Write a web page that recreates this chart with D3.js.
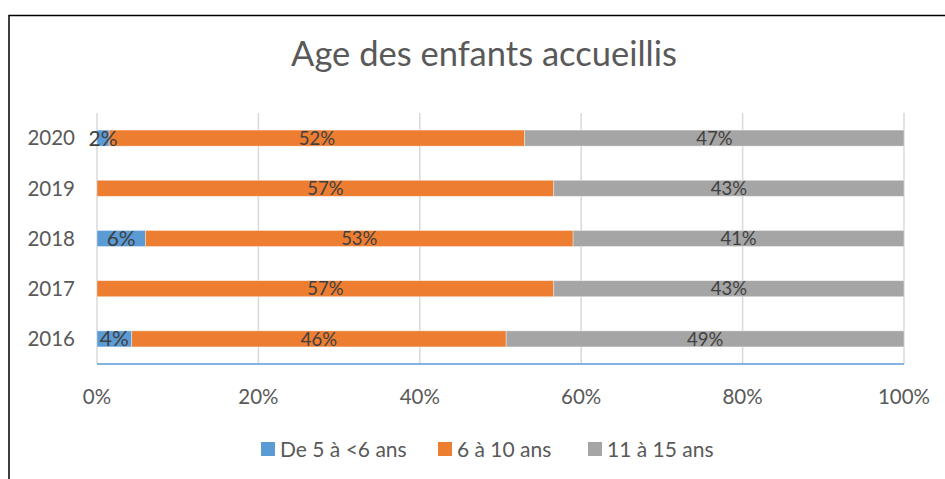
<!doctype html>
<html>
<head>
<meta charset="utf-8">
<style>
  body { margin: 0; background: #fff; }
  text { font-family: Lato, "Open Sans", sans-serif; }
</style>
</head>
<body>
  <svg id="chart"></svg>
</body>
<script src="https://d3js.org/d3.v7.min.js"></script>
<script>
  const years = ["2020", "2019", "2018", "2017", "2016"];
  const seriesNames = ["De 5 à <6 ans", "6 à 10 ans", "11 à 15 ans"];
  const colors = ["#5b9bd5", "#ed7d31", "#a5a5a5"];
  const small = [1.5, 0, 6, 0, 4.3];
  const middle = [51.5, 56.6, 53, 56.6, 46.4];
  const big = [47, 43.4, 41, 43.4, 49.3];
  const ticks = [0, 20, 40, 60, 80, 100];

  const width = 945, height = 479;
  const svg = d3.select("#chart").attr("width", width).attr("height", height);

  // frame
  svg.append("path")
    .attr("d", "M9,479 V15.5 H945")
    .attr("fill", "none")
    .attr("stroke", "#000")
    .attr("stroke-width", 1.5);

  svg.append("text")
    .attr("x", 484).attr("y", 66)
    .attr("text-anchor", "middle")
    .attr("font-size", 34.5)
    .attr("fill", "#595959")
    .text("Age des enfants accueillis");

  const x = d3.scaleLinear().domain([0, 100]).range([97, 904]);
  const y = d3.scaleBand().domain(years).range([113, 364]).paddingInner(0.68).paddingOuter(0.34);

  // gridlines
  svg.append("g")
    .selectAll("line")
    .data(ticks)
    .join("line")
    .attr("x1", d => x(d)).attr("x2", d => x(d))
    .attr("y1", 113).attr("y2", 364)
    .attr("stroke", "#d9d9d9")
    .attr("stroke-width", 1.5);

  const rows = years.map((yr, i) => {
    const vals = [small[i], middle[i], big[i]];
    let acc = 0;
    return vals.map((v, k) => {
      const seg = { year: yr, k: k, v: v, x0: acc, x1: acc + v };
      acc += v;
      return seg;
    });
  }).flat();

  svg.append("g")
    .selectAll("rect")
    .data(rows.filter(d => d.v > 0))
    .join("rect")
    .attr("x", d => x(d.x0))
    .attr("width", d => x(d.x1) - x(d.x0))
    .attr("y", d => y(d.year))
    .attr("height", y.bandwidth())
    .attr("fill", d => colors[d.k])
    .attr("stroke", "#fff")
    .attr("stroke-opacity", 0.5)
    .attr("stroke-width", 0.75);

  svg.append("g")
    .selectAll("text")
    .data(rows.filter(d => d.v > 0))
    .join("text")
    .attr("x", d => (x(d.x0) + x(d.x1)) / 2)
    .attr("y", d => y(d.year) + y.bandwidth() / 2)
    .attr("dy", "0.36em")
    .attr("text-anchor", "middle")
    .attr("font-size", d => d.k === 0 ? 21 : 18.5)
    .attr("fill", "#404040")
    .text(d => Math.round(d.v) + "%");

  // axis baseline
  svg.append("line")
    .attr("x1", x(0)).attr("x2", x(100))
    .attr("y1", 364).attr("y2", 364)
    .attr("stroke", "#5b9bd5")
    .attr("stroke-width", 1.5);

  // category labels
  svg.append("g")
    .selectAll("text")
    .data(years)
    .join("text")
    .attr("x", 75)
    .attr("y", d => y(d) + y.bandwidth() / 2)
    .attr("dy", "0.36em")
    .attr("text-anchor", "end")
    .attr("font-size", 20.5)
    .attr("fill", "#595959")
    .text(d => d);

  // x tick labels
  svg.append("g")
    .selectAll("text")
    .data(ticks)
    .join("text")
    .attr("x", d => x(d))
    .attr("y", 397)
    .attr("dy", "0.36em")
    .attr("text-anchor", "middle")
    .attr("font-size", 20.5)
    .attr("fill", "#595959")
    .text(d => d + "%");

  // legend
  const legendX = [261, 438, 588];
  const legend = svg.append("g")
    .selectAll("g")
    .data(seriesNames)
    .join("g")
    .attr("transform", (d, i) => `translate(${legendX[i]},442)`);
  legend.append("rect")
    .attr("width", 14).attr("height", 14)
    .attr("fill", (d, i) => colors[i]);
  legend.append("text")
    .attr("x", 19).attr("y", 7)
    .attr("dy", "0.36em")
    .attr("font-size", 21)
    .attr("fill", "#595959")
    .text(d => d);
</script>
</html>
